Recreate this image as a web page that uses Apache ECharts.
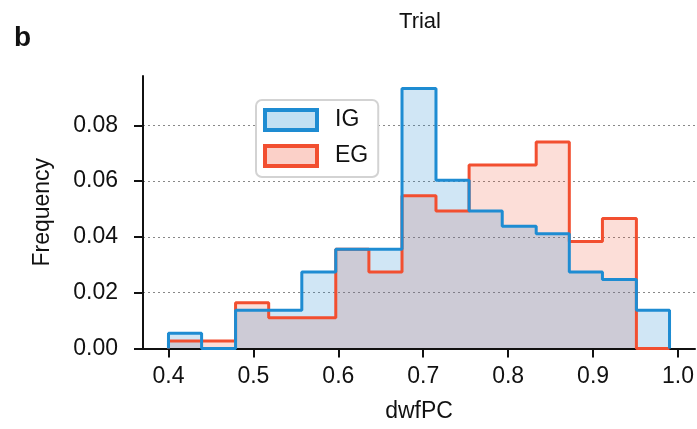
<!DOCTYPE html>
<html>
<head>
<meta charset="utf-8">
<title>Trial - dwfPC</title>
<script src="https://cdn.jsdelivr.net/npm/echarts@6/dist/echarts.min.js"></script>
<style>
  html, body { margin: 0; padding: 0; background: #fff; }
  #main { width: 697px; height: 429px; }
</style>
</head>
<body>
<div id="main"></div>
<script>
// bin edges (15 bins between 0.40 and 0.99)
var binEdges = [0.400, 0.439, 0.479, 0.518, 0.557, 0.597, 0.636, 0.675,
                0.715, 0.754, 0.793, 0.833, 0.872, 0.911, 0.951, 0.990];
// frequencies
var igFreq = [0.0055, 0, 0.0137, 0.0137, 0.0274, 0.0356, 0.0356, 0.0932,
              0.0603, 0.0493, 0.0438, 0.0411, 0.0274, 0.0247, 0.0137];
var egFreq = [0.0027, 0.0027, 0.0164, 0.0110, 0.0110, 0.0356, 0.0274, 0.0548,
              0.0493, 0.0658, 0.0658, 0.0740, 0.0384, 0.0466, 0];
var xTicks = [0.4, 0.5, 0.6, 0.7, 0.8, 0.9, 1.0];
var yTicks = [0, 0.02, 0.04, 0.06, 0.08];

var FONT = "Liberation Sans";

// turn bins into a step outline: up from 0, across each bin, back down to 0
function stepPoints(edges, freq) {
  var pts = [[edges[0], 0]];
  for (var i = 0; i < freq.length; i++) {
    pts.push([edges[i], freq[i]]);
    pts.push([edges[i + 1], freq[i]]);
  }
  pts.push([edges[edges.length - 1], 0]);
  return pts;
}

var myChart = echarts.init(document.getElementById("main"), null, { renderer: "canvas" });

var option = {
  animation: false,
  backgroundColor: "#fff",
  textStyle: { fontFamily: FONT },
  graphic: [
    {
      type: "text", x: 420, y: 22,
      style: { text: "Trial", font: "22px " + FONT, fill: "#111", textAlign: "center", textVerticalAlign: "middle" }
    },
    {
      type: "text", x: 14, y: 38,
      style: { text: "b", font: "bold 28px " + FONT, fill: "#111", textAlign: "left", textVerticalAlign: "middle" }
    }
  ],
  grid: { left: 143, top: 76, right: 1.5, bottom: 80.5 },
  legend: {
    orient: "vertical",
    left: 256,
    top: 100,
    padding: [8, 10, 9, 7],
    itemGap: 12,
    itemWidth: 52,
    itemHeight: 20,
    backgroundColor: "#fff",
    borderColor: "#d3d3d3",
    borderWidth: 2,
    borderRadius: 6,
    textStyle: { fontSize: 23, color: "#111", fontFamily: FONT, padding: [0, 0, 0, 13] },
    data: [
      { name: "IG", icon: "rect", itemStyle: { color: "#c2e0f3", borderColor: "#1e8cd2", borderWidth: 4 } },
      { name: "EG", icon: "rect", itemStyle: { color: "#fbd0c8", borderColor: "#f24f30", borderWidth: 4 } }
    ]
  },
  xAxis: {
    type: "value",
    min: 0.37,
    max: 1.02,
    z: 3,
    name: "dwfPC",
    nameLocation: "middle",
    nameGap: 52,
    nameTextStyle: { fontSize: 23, color: "#111", fontFamily: FONT },
    axisLine: { lineStyle: { color: "#111", width: 2 } },
    axisTick: { show: true, length: 9, lineStyle: { color: "#111", width: 2 }, customValues: xTicks },
    axisLabel: {
      fontSize: 23, color: "#111", margin: 17, customValues: xTicks,
      formatter: function (v) { return v.toFixed(1); }
    },
    splitLine: { show: false }
  },
  yAxis: {
    type: "value",
    min: 0,
    max: 0.0977,
    name: "Frequency",
    nameLocation: "middle",
    nameGap: 89,
    nameTextStyle: { fontSize: 23, color: "#111", fontFamily: FONT },
    axisLine: { show: true, lineStyle: { color: "#111", width: 2 } },
    axisTick: { show: true, length: 9, lineStyle: { color: "#111", width: 2 }, customValues: yTicks },
    axisLabel: {
      fontSize: 23, color: "#111", margin: 25, customValues: yTicks,
      formatter: function (v) { return v.toFixed(2); }
    },
    splitLine: { show: true, lineStyle: { color: "#888", width: 1.2, type: [2, 3] } }
  },
  series: [
    {
      name: "EG",
      type: "line",
      data: stepPoints(binEdges, egFreq),
      showSymbol: false,
      clip: false,
      lineStyle: { color: "#f24f30", width: 3 },
      itemStyle: { color: "#f24f30" },
      areaStyle: { color: "rgba(240,80,50,0.27)" }
    },
    {
      name: "IG",
      type: "line",
      data: stepPoints(binEdges, igFreq),
      showSymbol: false,
      clip: false,
      lineStyle: { color: "#1e8cd2", width: 3 },
      itemStyle: { color: "#1e8cd2" },
      areaStyle: { color: "rgba(25,130,205,0.29)" }
    }
  ]
};

myChart.setOption(option);
</script>
</body>
</html>
